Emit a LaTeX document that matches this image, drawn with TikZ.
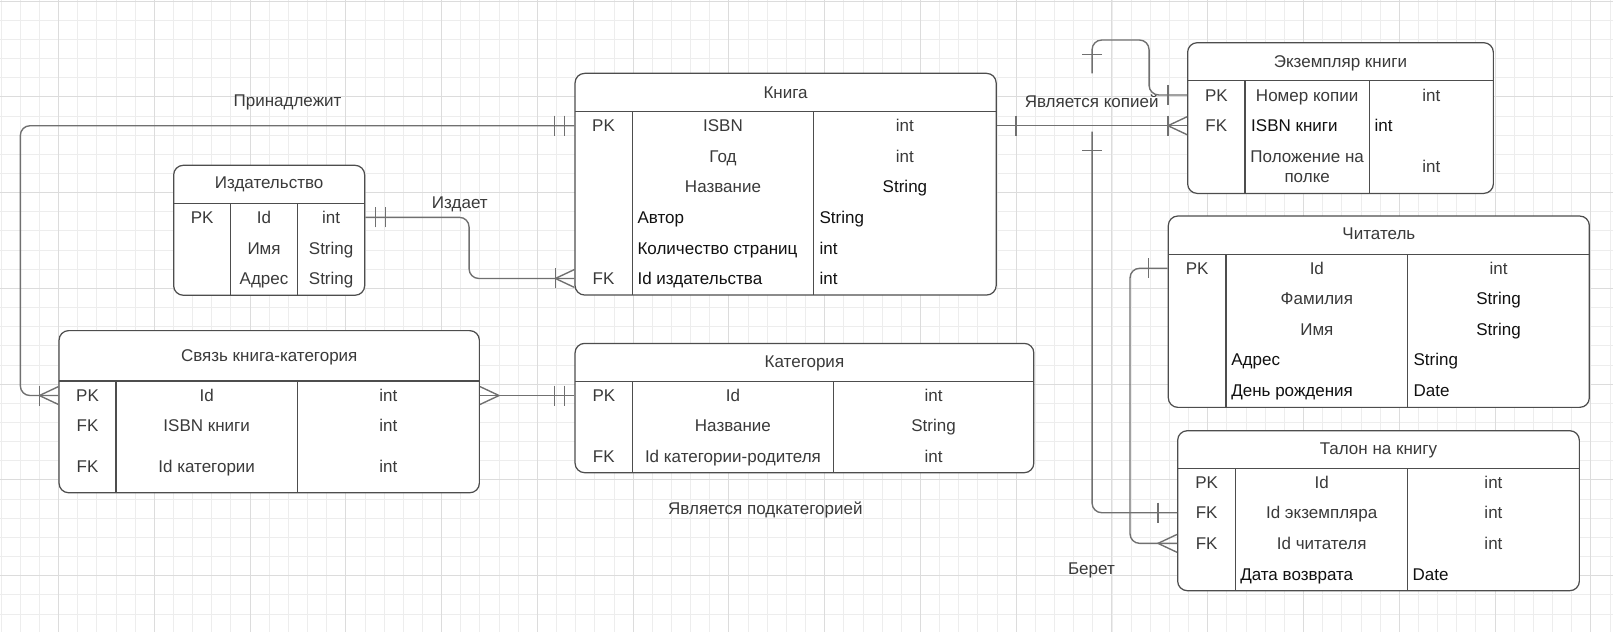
\documentclass[tikz,border=0pt]{standalone}
\usepackage{fontspec}
\setmainfont{Liberation Sans}
\usepackage{xcolor}
\usepackage{tikz}
\usetikzlibrary{calc,fit,positioning}
\definecolor{gridmin}{HTML}{EDEDED}
\definecolor{gridmaj}{HTML}{DCDCDC}
\definecolor{edge}{HTML}{4D4D4D}
\definecolor{link}{HTML}{707070}
\definecolor{txt}{HTML}{3A3A3A}
\definecolor{txtb}{HTML}{111111}
\tikzset{
  gridln/.style={draw=gridmin, line width=0.6pt},
  gridmj/.style={draw=gridmaj, line width=0.7pt},
  tbl/.style={draw=edge, fill=white, line width=0.9pt, rounded corners=7pt, inner sep=0pt},
  divln/.style={draw=edge, line width=0.9pt},
  rel/.style={draw=link, line width=1pt, rounded corners=7pt},
  relend/.style={draw=link, line width=1pt, sharp corners},
  cell/.style={text=txt, inner sep=0pt, text height=8.9pt, text depth=0pt, font=\fontsize{12.4}{14.5}\selectfont},
  cellL/.style={cell, anchor=west, text=txtb},
  lbl/.style={cell},
  onebar/.pic={\draw[relend] (-18.5,-9.7) -- (-18.5,9.7);},
  twobar/.pic={\draw[relend] (-9.7,-9.7) -- (-9.7,9.7) (-19.4,-9.7) -- (-19.4,9.7);},
  crow/.pic={\draw[relend] (0,-8.7) -- (-18.5,0) -- (0,8.7);},
}
\begin{document}
\begin{tikzpicture}[x=0.75pt, y=-0.75pt]
  \useasboundingbox (0,0) rectangle (1568,614.4);
  \fill[white] (0,0) rectangle (1568,614.4);
  % grid
  \foreach \k in {0,...,84} \draw[gridln] (0.97+18.62*\k,0) -- ++(0,614.4);
  \foreach \j in {0,...,33} \draw[gridln] (0,0.97+18.62*\j) -- ++(1568,0);
  \foreach \k in {3,8,...,83} \draw[gridmj] (0.97+18.62*\k,0) -- ++(0,614.4);
  \foreach \j in {0,5,...,30} \draw[gridmj] (0,0.97+18.62*\j) -- ++(1568,0);

  % tables: name / box / header line / two column lines
  \foreach \n/\xa/\ya/\xb/\yb/\yh/\ca/\cb in {
      kn/559/71.3/968.4/286.8/108.6/614.5/791,
      izd/168.8/160.7/354.5/287/198/224.3/289.2,
      ekz/1154.5/41.5/1451.7/188/78.4/1210.3/1331.1,
      cht/1135.7/210/1545/396/247.2/1191.8/1368.4,
      tal/1144.8/418.7/1535.3/574.2/455.6/1201.2/1368.4,
      svz/57.4/321.4/466/479/370.4/112.8/289,
      kat/559/333.8/1005/459.5/371/615/810}{
    \node[tbl, fit={(\xa,\ya) (\xb,\yb)}] (\n) {};
    \draw[divln] (\xa,\yh) -- (\xb,\yh) (\ca,\yh) -- (\ca,\yb) (\cb,\yh) -- (\cb,\yb);
  }

  % Книга
  \node[cell] (kn-t) at (763.7,89.7) {Книга};
  \node[cell] (kn-pk) at (586.7,122.2) {PK};
  \node[cell] (kn-fk) at (586.7,270.7) {FK};
  \node[cell] (kn-a1) at (702.8,122.2) {ISBN};
  \node[cell] (kn-a2) at (702.8,151.9) {Год};
  \node[cell] (kn-a3) at (702.8,181.6) {Название};
  \node[cellL] (kn-a4) at (619.5,211.3) {Автор};
  \node[cellL] (kn-a5) at (619.5,241) {Количество страниц};
  \node[cellL] (kn-a6) at (619.5,270.7) {Id издательства};
  \node[cell] (kn-b1) at (879.7,122.2) {int};
  \node[cell] (kn-b2) at (879.7,151.9) {int};
  \node[cell, text=txtb] (kn-b3) at (879.7,181.6) {String};
  \node[cellL] (kn-b4) at (796.4,211.3) {String};
  \node[cellL] (kn-b5) at (796.4,241) {int};
  \node[cellL] (kn-b6) at (796.4,270.7) {int};

  % Издательство
  \node[cell] (izd-t) at (261.6,177.6) {Издательство};
  \node[cell] (izd-pk) at (196.5,211.3) {PK};
  \node[cell] (izd-a1) at (256.7,211.3) {Id};
  \node[cell] (izd-a2) at (256.7,241) {Имя};
  \node[cell] (izd-a3) at (256.7,270.7) {Адрес};
  \node[cell] (izd-b1) at (321.9,211.3) {int};
  \node[cell] (izd-b2) at (321.9,241) {String};
  \node[cell] (izd-b3) at (321.9,270.7) {String};

  % Экземпляр книги
  \node[cell] (ekz-t) at (1303,60) {Экземпляр книги};
  \node[cell] (ekz-pk) at (1182.4,92.3) {PK};
  \node[cell] (ekz-fk) at (1182.4,122.2) {FK};
  \node[cell] (ekz-a1) at (1270.7,92.3) {Номер копии};
  \node[cellL] (ekz-a2) at (1216,122.2) {ISBN книги};
  \node[cell] (ekz-a3) at (1270.7,151.6) {Положение на};
  \node[cell] (ekz-a3b) at (1270.7,171.7) {полке};
  \node[cell] (ekz-b1) at (1391.4,92.3) {int};
  \node[cellL] (ekz-b2) at (1336,122.2) {int};
  \node[cell] (ekz-b3) at (1391.4,161.4) {int};

  % Читатель
  \node[cell] (cht-t) at (1340.4,226.8) {Читатель};
  \node[cell] (cht-pk) at (1163.7,260.8) {PK};
  \node[cell] (cht-a1) at (1280.1,260.8) {Id};
  \node[cell] (cht-a2) at (1280.1,290.4) {Фамилия};
  \node[cell] (cht-a3) at (1280.1,320) {Имя};
  \node[cellL] (cht-a4) at (1196.7,349.6) {Адрес};
  \node[cellL] (cht-a5) at (1196.7,379.2) {День рождения};
  \node[cell] (cht-b1) at (1456.7,260.8) {int};
  \node[cell, text=txtb] (cht-b2) at (1456.7,290.4) {String};
  \node[cell, text=txtb] (cht-b3) at (1456.7,320) {String};
  \node[cellL] (cht-b4) at (1373.9,349.6) {String};
  \node[cellL] (cht-b5) at (1373.9,379.2) {Date};

  % Талон на книгу
  \node[cell] (tal-t) at (1340,435.8) {Талон на книгу};
  \node[cell] (tal-pk) at (1173,468.6) {PK};
  \node[cell] (tal-fk1) at (1173,498.4) {FK};
  \node[cell] (tal-fk2) at (1173,528.2) {FK};
  \node[cell] (tal-a1) at (1284.8,468.6) {Id};
  \node[cell] (tal-a2) at (1284.8,498.4) {Id экземпляра};
  \node[cell] (tal-a3) at (1284.8,528.2) {Id читателя};
  \node[cellL] (tal-a4) at (1205.4,558) {Дата возврата};
  \node[cell] (tal-b1) at (1451.8,468.6) {int};
  \node[cell] (tal-b2) at (1451.8,498.4) {int};
  \node[cell] (tal-b3) at (1451.8,528.2) {int};
  \node[cellL] (tal-b4) at (1373,558) {Date};

  % Связь книга-категория
  \node[cell] (svz-t) at (261.7,345) {Связь книга-категория};
  \node[cell] (svz-pk) at (85.1,384.5) {PK};
  \node[cell] (svz-fk1) at (85.1,413.2) {FK};
  \node[cell] (svz-fk2) at (85.1,453) {FK};
  \node[cell] (svz-a1) at (200.9,384.5) {Id};
  \node[cell] (svz-a2) at (200.9,413.2) {ISBN книги};
  \node[cell] (svz-a3) at (200.9,453) {Id категории};
  \node[cell] (svz-b1) at (377.5,384.5) {int};
  \node[cell] (svz-b2) at (377.5,413.2) {int};
  \node[cell] (svz-b3) at (377.5,453) {int};

  % Категория
  \node[cell] (kat-t) at (782,351) {Категория};
  \node[cell] (kat-pk) at (587,384.5) {PK};
  \node[cell] (kat-fk) at (587,443.3) {FK};
  \node[cell] (kat-a1) at (712.5,384.5) {Id};
  \node[cell] (kat-a2) at (712.5,414) {Название};
  \node[cell] (kat-a3) at (712.5,443.3) {Id категории-родителя};
  \node[cell] (kat-b1) at (907.5,384.5) {int};
  \node[cell] (kat-b2) at (907.5,414) {String};
  \node[cell] (kat-b3) at (907.5,443.3) {int};

  % relation labels
  \node[lbl] (l-pr) at (279.5,97.9) {Принадлежит};
  \node[lbl] (l-iz) at (447,197) {Издает};
  \node[lbl] (l-ko) at (1061.2,98.2) {Является копией};
  \node[lbl] (l-sub) at (744,494) {Является подкатегорией};
  \node[lbl] (l-be) at (1061,552.5) {Берет};

  % connectors
  \coordinate (pr-bend) at (19.8,250);
  \coordinate (iz-bend) at (456,240);
  \coordinate (ko-a) at (1117,38.9);
  \coordinate (ko-top) at (1061.6,71.3);
  \coordinate (ko-low) at (1061.6,128);
  \coordinate (be-bend) at (1098.5,400);
  \draw[rel] (kn.west |- kn-pk) -| (pr-bend) |- (svz.west |- svz-pk);
  \draw[rel] (izd.east |- izd-pk) -| (iz-bend) |- (kn.west |- kn-fk);
  \draw[rel] (kn.east |- kn-pk) -- (ekz.west |- ekz-fk);
  \draw[rel] (ekz.west |- ekz-pk) -| (ko-a) -| (ko-top);
  \draw[rel] (ko-low) |- (tal.west |- tal-fk1);
  \draw[rel] (cht.west |- cht-pk) -| (be-bend) |- (tal.west |- tal-fk2);
  \draw[rel] (svz.east |- svz-pk) -- (kat.west |- kat-pk);

  % ends
  \pic at (kn.west |- kn-pk) {twobar};
  \pic at (svz.west |- svz-pk) {onebar};
  \pic at (svz.west |- svz-pk) {crow};
  \pic[rotate=180] at (izd.east |- izd-pk) {twobar};
  \pic at (kn.west |- kn-fk) {onebar};
  \pic at (kn.west |- kn-fk) {crow};
  \pic[rotate=180] at (kn.east |- kn-pk) {onebar};
  \pic at (ekz.west |- ekz-fk) {onebar};
  \pic at (ekz.west |- ekz-fk) {crow};
  \pic at (ekz.west |- ekz-pk) {onebar};
  \pic[rotate=-90] at (ko-top) {onebar};
  \pic[rotate=90] at (ko-low) {onebar};
  \pic at (tal.west |- tal-fk1) {onebar};
  \pic at (cht.west |- cht-pk) {onebar};
  \pic at (tal.west |- tal-fk2) {crow};
  \pic[rotate=180] at (svz.east |- svz-pk) {crow};
  \pic at (kat.west |- kat-pk) {twobar};
\end{tikzpicture}
\end{document}
